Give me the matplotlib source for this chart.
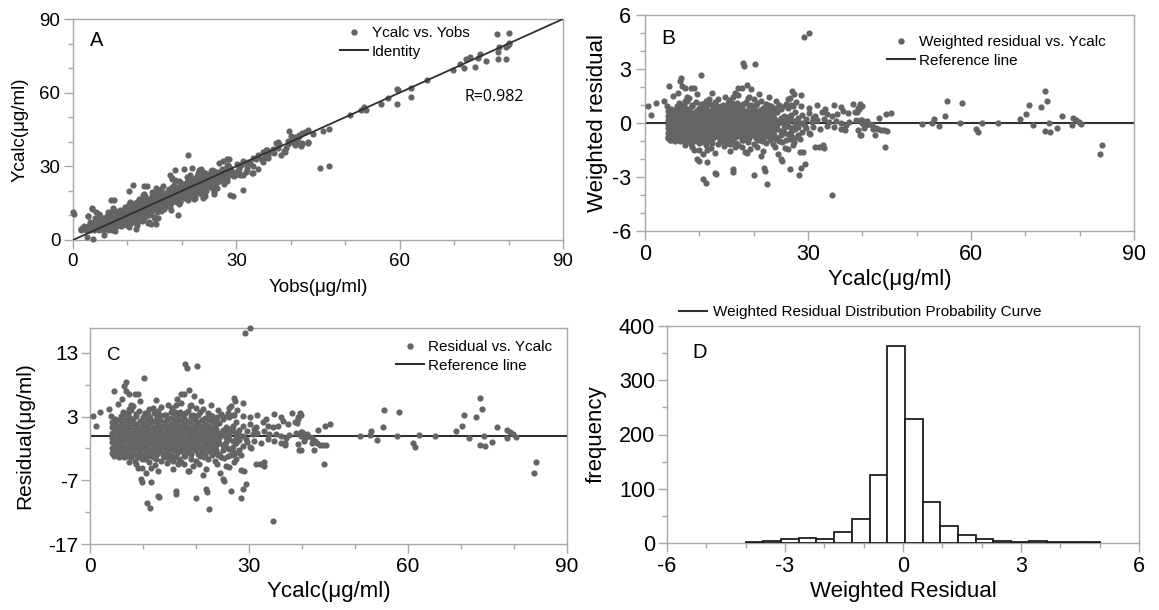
import matplotlib
matplotlib.use("Agg")
import matplotlib.pyplot as plt
from matplotlib.ticker import MultipleLocator, FixedLocator
from matplotlib.lines import Line2D
import numpy as np

# ---------------- data ----------------
# dense core of the residual cloud: Ycalc column positions and the residuals found there
core_ycalc = [4.2, 4.8, 5.5, 6.1, 6.8, 7.4, 8.1, 8.7, 9.4, 10.0, 10.7, 11.3, 12.0, 12.6,
              13.3, 13.9, 14.6, 15.2, 15.9, 16.5, 17.2, 17.8, 18.5, 19.1, 19.8, 20.4,
              21.1, 21.7, 22.4, 23.0, 23.7, 24.3, 25.0, 25.6, 26.3, 26.9, 27.6, 28.2, 28.9]
core_resid = [
    [-2.7, -1.9, -1.0, -0.3, 0.5, 1.3, 2.2],
    [-3.1, -2.2, -1.4, -0.6, 0.2, 1.0, 1.8, 2.6],
    [-2.4, -1.6, -0.8, 0.0, 0.8, 1.6, 2.5],
    [-2.9, -2.0, -1.2, -0.4, 0.4, 1.2, 2.0, 3.0],
    [-2.5, -1.7, -0.9, -0.1, 0.7, 1.5, 2.4, 3.4],
    [-2.8, -1.9, -1.1, -0.3, 0.5, 1.3, 2.1, 2.9],
    [-2.3, -1.5, -0.7, 0.1, 0.9, 1.8, 2.7],
    [-3.0, -2.1, -1.3, -0.5, 0.3, 1.1, 1.9, 3.1],
    [-2.6, -1.8, -1.0, -0.2, 0.6, 1.4, 2.3],
    [-2.9, -2.0, -1.2, -0.4, 0.4, 1.2, 2.0, 2.9],
    [-2.4, -1.6, -0.8, 0.0, 0.8, 1.6, 2.5, 3.5],
    [-3.1, -2.2, -1.3, -0.5, 0.3, 1.1, 2.0, 2.8],
    [-2.6, -1.8, -1.0, -0.2, 0.6, 1.4, 2.3],
    [-2.9, -2.0, -1.2, -0.4, 0.4, 1.3, 2.1, 3.0],
    [-2.4, -1.6, -0.8, 0.0, 0.8, 1.6, 2.5],
    [-2.8, -1.9, -1.1, -0.3, 0.5, 1.3, 2.2, 3.2],
    [-2.5, -1.7, -0.9, -0.1, 0.7, 1.5, 2.4],
    [-3.0, -2.1, -1.3, -0.5, 0.3, 1.1, 1.9, 2.8],
    [-2.3, -1.5, -0.7, 0.1, 0.9, 1.7, 2.6, 3.6],
    [-2.7, -1.9, -1.1, -0.3, 0.5, 1.3, 2.2, 3.0],
    [-2.4, -1.6, -0.8, 0.0, 0.8, 1.6, 2.5, 3.4],
    [-3.2, -2.2, -1.4, -0.6, 0.2, 1.0, 1.9, 2.8],
    [-2.6, -1.8, -1.0, -0.2, 0.6, 1.4, 2.3, 3.9],
    [-2.9, -2.0, -1.2, -0.4, 0.4, 1.2, 2.1, 3.1],
    [-2.3, -1.5, -0.7, 0.1, 0.9, 1.7, 2.6],
    [-2.8, -1.9, -1.1, -0.3, 0.5, 1.3, 2.2, 3.3],
    [-2.5, -1.7, -0.9, -0.1, 0.7, 1.5, 2.4],
    [-3.0, -2.1, -1.3, -0.5, 0.3, 1.1, 1.9, 2.8],
    [-2.4, -1.6, -0.8, 0.0, 0.8, 1.6, 2.5],
    [-2.7, -1.8, -1.0, -0.2, 0.6, 1.4, 2.3],
    [-2.2, -1.4, -0.6, 0.2, 1.0, 1.8, 2.7],
    [-2.9, -1.2, -0.4, 0.4, 2.0],
    [-2.3, -1.5, 0.1, 0.9, 2.6],
    [-1.8, -1.0, -0.2, 0.6, 1.4],
    [-2.1, -0.5, 0.3, 1.1, 2.9],
    [-2.5, -1.7, -0.9, 0.7, 1.5, 3.3],
    [-1.2, -0.4, 0.4, 2.1],
    [-2.3, -0.7, 0.1, 0.9],
    [-1.6, 0.0, 1.5],
]

# scattered points above the core (Ycalc, residual)
upper_pts = [
    (29.2, 16.1), (30.1, 16.9), (18.0, 11.3), (18.3, 10.6), (20.2, 11.0), (10.25, 9.0),
    (6.7, 8.5), (6.5, 7.8), (6.8, 7.0), (4.5, 7.0), (7.4, 6.5), (8.4, 6.6), (9.1, 6.6),
    (18.7, 7.2), (17.2, 6.6), (17.8, 6.5), (16.5, 5.7), (19.6, 6.3), (21.0, 5.5),
    (27.1, 5.9), (27.4, 5.4), (26.6, 4.7), (28.8, 5.2), (8.1, 4.7), (7.4, 4.2), (7.7, 4.9),
    (11.8, 4.4), (13.4, 4.5), (11.2, 4.2), (12.8, 3.9), (0.5, 3.1), (1.95, 3.8), (3.5, 4.2),
    (1.1, 1.5), (4.0, 3.1), (16.2, 4.9), (17.2, 5.2), (19.1, 4.9), (20.0, 4.4), (21.3, 4.2),
    (22.2, 3.6), (23.1, 3.1), (24.7, 3.4), (26.0, 3.6), (26.3, 4.4), (5.8, 3.1), (6.3, 3.7),
    (7.1, 3.6), (7.7, 4.1), (8.7, 3.4), (9.3, 3.9), (10.3, 3.6), (11.0, 3.2), (12.0, 3.5),
    (13.0, 3.3), (14.4, 3.3), (15.3, 3.8), (16.0, 3.7), (17.0, 3.7), (18.0, 3.5), (19.5, 3.3),
    (20.7, 3.7), (22.7, 3.3), (24.0, 2.9), (25.3, 3.0), (27.2, 3.2), (27.8, 4.0), (5.2, 5.0),
    (9.5, 5.4), (12.4, 5.6), (14.7, 4.8), (18.9, 4.6), (22.8, 4.9), (24.1, 4.1), (15.4, 4.3),
    (6.0, 5.7),
]
# scattered points below the core (Ycalc, residual)
lower_pts = [
    (34.5, -13.4), (22.5, -11.5), (11.3, -11.3), (10.7, -10.5), (13.1, -9.6), (12.8, -9.4),
    (16.2, -8.7), (16.2, -9.2), (20.0, -9.8), (21.9, -8.4), (22.0, -8.9), (25.0, -6.8),
    (25.3, -7.1), (26.6, -8.7), (28.4, -9.7), (28.8, -8.4), (29.4, -7.6), (9.6, -6.8),
    (9.9, -7.2), (11.5, -7.3), (12.9, -5.6), (21.3, -6.1), (28.5, -5.4), (29.1, -5.5),
    (8.4, -3.9), (9.0, -5.0), (9.9, -5.0), (11.2, -4.2), (11.5, -5.0), (7.3, -4.1),
    (4.3, -2.8), (5.2, -2.9), (4.6, -3.2), (5.8, -2.5), (15.6, -3.9), (17.2, -4.2),
    (17.8, -4.5), (18.4, -5.5), (18.7, -5.6), (20.0, -3.9), (20.6, -4.5), (22.2, -3.7),
    (23.5, -3.9), (24.7, -3.4), (25.7, -4.7), (26.3, -4.9), (14.0, -3.4), (15.0, -3.7),
    (13.4, -3.9), (9.9, -3.7), (10.9, -3.2), (6.5, -3.4), (7.7, -3.4), (23.5, -2.6),
    (26.0, -3.2), (27.2, -2.9), (27.9, -2.6), (5.5, -3.4), (6.2, -3.0), (7.0, -3.2),
    (8.0, -3.0), (9.0, -3.3), (10.3, -3.6), (11.8, -3.3), (12.4, -3.7), (13.8, -3.1),
    (14.6, -3.3), (16.0, -3.3), (16.8, -3.7), (18.0, -3.2), (19.0, -3.6), (20.8, -3.2),
    (21.6, -3.4), (23.0, -3.1), (24.2, -3.0), (25.3, -3.5), (26.6, -3.0), (27.5, -3.6),
    (28.5, -3.0), (8.6, -4.4), (12.2, -4.6), (14.5, -4.3), (16.6, -4.5), (19.4, -4.8),
    (23.9, -4.5), (27.2, -4.2), (10.6, -5.8), (15.6, -5.2), (21.8, -5.3), (24.5, -5.8),
]
# points between Ycalc 29 and 46 (Ycalc, residual)
tail_pts = [
    (28.8, 3.1), (30.1, 2.9), (31.6, 3.3), (33.2, 2.6), (34.8, 3.4), (36.0, 3.0), (38.2, 3.6),
    (39.2, 2.9), (36.4, 2.3), (30.1, 1.8), (31.3, 1.3), (32.6, 2.1), (33.5, 1.6), (34.5, 1.3),
    (35.4, 1.6), (37.3, 1.8), (38.6, 2.1), (29.7, 0.8), (30.7, 0.2), (31.6, 0.5), (32.9, 0.8),
    (33.8, 0.2), (35.1, 0.3), (36.0, 0.0), (37.6, 0.1), (38.9, 0.5), (39.8, 0.6), (29.4, -0.5),
    (31.0, -0.8), (32.3, -1.1), (33.5, -0.5), (34.8, -0.8), (36.0, -1.1), (37.0, -0.3),
    (30.1, -1.8), (30.4, -2.0), (36.7, -1.1), (36.8, -1.4), (39.2, -1.3), (39.5, -2.3),
    (31.3, -4.5), (32.0, -4.5), (32.8, -4.1), (32.9, -4.7), (29.6, -1.0), (30.9, 1.0),
    (39.6, 3.6), (39.9, 3.2), (39.3, 2.7), (39.0, 2.0), (39.9, 0.0), (40.6, -0.4), (41.2, -0.1),
    (41.8, -0.4), (42.5, -0.9), (42.8, -1.2), (43.4, -1.4), (44.0, -1.4), (44.6, -1.5),
    (39.8, -2.2), (42.3, -2.2), (43.1, 0.9), (44.3, 1.6), (45.3, 1.8), (44.2, -4.5),
    (40.3, -0.9), (41.9, -1.1), (40.0, 0.6), (40.9, 0.3),
]
# points above Ycalc 46 (Ycalc, residual)
high_pts = [
    (50.9, -0.1), (52.8, 0.05), (53.1, 0.7), (54.1, -0.6), (55.2, 1.3), (55.5, 4.1),
    (57.9, 0.0), (58.3, 3.7), (60.9, -1.2), (61.3, -1.7), (62.0, 0.05), (65.0, 0.0),
    (69.1, 0.7), (70.2, 1.6), (70.6, 3.3), (71.5, -0.4), (72.8, 3.0), (73.6, 6.0),
    (73.9, 4.2), (74.3, 0.0), (73.6, -1.5), (74.5, -1.6), (75.8, -1.0), (76.7, 1.4),
    (78.6, -0.4), (78.7, 0.9), (79.3, 0.6), (79.8, 0.2), (80.3, -0.2), (83.7, -5.8),
    (84.2, -4.1),
]
RESID_SD = 3.37          # scale of the weighted residuals (residual / SD)
R_VALUE = "R=0.982"

# histogram of weighted residuals (panel D)
hist_edges = [-4.0, -3.55, -3.1, -2.65, -2.2, -1.75, -1.3, -0.85, -0.4, 0.05, 0.5,
              0.95, 1.4, 1.85, 2.3, 2.75, 3.2, 3.65, 4.1, 4.55, 5.0]
hist_counts = [2, 4, 7, 10, 7, 20, 45, 125, 363, 228, 75, 31, 14, 8, 4, 2, 3, 1, 1, 2]

# ---------------- assemble ----------------
assert len(core_ycalc) == len(core_resid)
pairs = [(x, r) for x, rs in zip(core_ycalc, core_resid) for r in rs]
pairs += upper_pts + lower_pts + tail_pts + high_pts
ycalc = np.array([p[0] for p in pairs])
resid = np.array([p[1] for p in pairs])
yobs = ycalc + resid
wres = resid / RESID_SD

# ---------------- style ----------------
plt.rcParams["font.family"] = ["Liberation Sans", "DejaVu Sans"]
plt.rcParams["axes.unicode_minus"] = False
W, H = 1159, 610
fig = plt.figure(figsize=(W / 100, H / 100), dpi=100)

PT_COLOR = "#646464"
LINE_COLOR = "#303030"
SPINE = "#a8a8a8"


def add_ax(l, t, r, b):
    return fig.add_axes([l / W, 1 - b / H, (r - l) / W, (b - t) / H])


def style(ax, fs, xpad, ypad):
    for s in ax.spines.values():
        s.set_color(SPINE)
        s.set_linewidth(1.0)
    ax.tick_params(which="both", direction="out", color=SPINE, width=1.0, labelsize=fs)
    ax.tick_params(which="major", length=6.5)
    ax.tick_params(which="minor", length=3.3)
    ax.tick_params(axis="x", which="both", pad=xpad)
    ax.tick_params(axis="y", which="both", pad=ypad)


def place_labels(ax, xl, yl, fs_x, fs_y, xy, yx, yy=0.5):
    ax.set_xlabel(xl, fontsize=fs_x, va="center")
    ax.xaxis.set_label_coords(0.5, xy)
    ax.set_ylabel(yl, fontsize=fs_y, va="center")
    ax.yaxis.set_label_coords(yx, yy)


def legend(ax, handles, labels, x, y, spacing=0.3):
    ax.legend(handles, labels, loc="upper left", bbox_to_anchor=(x, y), frameon=False,
              fontsize=11, handlelength=1.85, handletextpad=0.25, labelspacing=spacing,
              borderpad=0, borderaxespad=0, scatterpoints=1)


MS = 20
pt_handle = Line2D([], [], ls="none", marker="o", ms=4.6, color=PT_COLOR, mec="none")
ln_handle = Line2D([], [], color=LINE_COLOR, lw=1.5)

# ---- A ----
axA = add_ax(73, 19, 563, 240)
axA.scatter(yobs, ycalc, s=MS, color=PT_COLOR, linewidths=0, zorder=3, clip_on=False)
ident = [0, 90]
axA.plot(ident, ident, color=LINE_COLOR, lw=1.3, zorder=4)
axA.set_xlim(0, 90)
axA.set_ylim(0, 90)
axA.xaxis.set_major_locator(MultipleLocator(30))
axA.xaxis.set_minor_locator(MultipleLocator(10))
axA.yaxis.set_major_locator(MultipleLocator(30))
axA.yaxis.set_minor_locator(MultipleLocator(10))
style(axA, 13.5, 2.5, 2.5)
place_labels(axA, "Yobs(μg/ml)", "Ycalc(μg/ml)", 13.5, 13.5, (240 - 287) / 221, (20 - 73) / 490)
legend(axA, [pt_handle, ln_handle], ["Ycalc vs. Yobs", "Identity"], (340 - 73) / 490, (240 - 26) / 221)
fig.text(97 / W, 1 - 40.5 / H, "A", fontsize=14.5, ha="center", va="center")
fig.text(494 / W, 1 - 97 / H, R_VALUE, fontsize=11.5, family=["Open Sans", "DejaVu Sans"],
         ha="center", va="center")

# ---- B ----
axB = add_ax(645, 15, 1134, 231)
axB.scatter(ycalc, wres, s=MS, color=PT_COLOR, linewidths=0, zorder=3, clip_on=False)
axB.axhline(0, color=LINE_COLOR, lw=1.5, zorder=2)
axB.set_xlim(0, 90)
axB.set_ylim(-6, 6)
axB.xaxis.set_major_locator(MultipleLocator(30))
axB.xaxis.set_minor_locator(MultipleLocator(10))
axB.yaxis.set_major_locator(MultipleLocator(3))
axB.yaxis.set_minor_locator(MultipleLocator(1))
style(axB, 15.5, 2.5, 3.5)
place_labels(axB, "Ycalc(μg/ml)", "Weighted residual", 16, 16, (231 - 279) / 216, (597 - 645) / 489)
legend(axB, [pt_handle, ln_handle], ["Weighted residual vs. Ycalc", "Reference line"],
       (887 - 645) / 489, (231 - 35) / 216)
fig.text(668 / W, 1 - 39 / H, "B", fontsize=15, ha="center", va="center")

# ---- C ----
axC = add_ax(90, 327.5, 567, 544)
axC.scatter(ycalc, resid, s=MS, color=PT_COLOR, linewidths=0, zorder=3, clip_on=False)
axC.axhline(0, color=LINE_COLOR, lw=1.5, zorder=2)
axC.set_xlim(0, 90)
axC.set_ylim(-17, 17)
axC.xaxis.set_major_locator(MultipleLocator(30))
axC.xaxis.set_minor_locator(MultipleLocator(10))
axC.yaxis.set_major_locator(FixedLocator([-17, -7, 3, 13]))
axC.yaxis.set_minor_locator(FixedLocator([-12, -2, 8]))
style(axC, 15, 3, 2)
place_labels(axC, "Ycalc(μg/ml)", "Residual(μg/ml)", 16, 15, (544 - 591) / 216.5, (25 - 90) / 477)
legend(axC, [pt_handle, ln_handle], ["Residual vs. Ycalc", "Reference line"],
       (395.5 - 90) / 477, (544 - 340) / 216.5)
fig.text(114 / W, 1 - 356 / H, "C", fontsize=13.5, ha="center", va="center")

# ---- D ----
axD = add_ax(667, 326, 1139, 543)
edges = np.array(hist_edges)
axD.bar(edges[:-1], hist_counts, width=np.diff(edges), align="edge", color="white",
        edgecolor="#1e1e1e", linewidth=1.3, zorder=3)
axD.set_xlim(-6, 6)
axD.set_ylim(0, 400)
axD.xaxis.set_major_locator(MultipleLocator(3))
axD.xaxis.set_minor_locator(MultipleLocator(1))
axD.yaxis.set_major_locator(MultipleLocator(100))
axD.yaxis.set_minor_locator(MultipleLocator(50))
style(axD, 15.5, 3, 2)
place_labels(axD, "Weighted Residual", "frequency", 16, 16, (543 - 592) / 217, (596 - 667) / 472)
axD.legend([ln_handle], ["Weighted Residual Distribution Probability Curve"], loc="upper left",
           bbox_to_anchor=((679 - 667) / 472, (543 - 305) / 217), frameon=False, fontsize=11,
           handlelength=1.8, handletextpad=0.4, borderpad=0, borderaxespad=0)
fig.text(700 / W, 1 - 352 / H, "D", fontsize=14.5, ha="center", va="center")

fig.savefig("out.png", dpi=100, facecolor="white")
